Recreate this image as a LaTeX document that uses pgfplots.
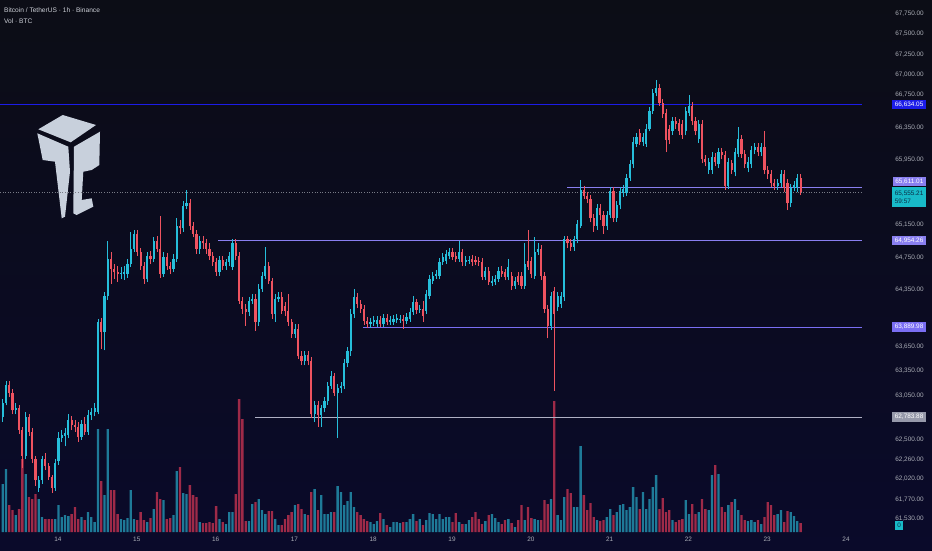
\documentclass[border=0pt]{standalone}
\usepackage{fontspec}
\setmainfont{Liberation Sans}
\usepackage{pgfplots}
\usepackage{pgfplotstable}
\pgfplotsset{compat=1.18}
\definecolor{bgtop}{RGB}{12,13,22}
\definecolor{bgbot}{RGB}{10,10,42}
\definecolor{upc}{RGB}{38,190,218}
\definecolor{dnc}{RGB}{239,83,96}
\definecolor{upv}{RGB}{30,122,152}
\definecolor{dnv}{RGB}{158,42,72}
\definecolor{tickc}{RGB}{170,173,182}
\definecolor{lblue}{RGB}{28,28,232}
\definecolor{lav}{RGB}{137,127,240}
\definecolor{lav2}{RGB}{122,110,243}
\definecolor{lgray}{RGB}{150,153,170}
\definecolor{lgrayline}{RGB}{175,176,196}
\definecolor{pteal}{RGB}{24,186,200}
\definecolor{ptealtxt}{RGB}{10,45,70}
\definecolor{logoc}{RGB}{200,208,220}
\definecolor{titlec}{RGB}{205,208,216}
\definecolor{dotc}{RGB}{120,123,134}

\pgfplotstableread{
i o h l c v
0 62780 63010 62720 62960 48
1 62960 63230 62925 63180 63
4 62865 62960 62815 62900 17
7 62300 62840 62265 62780 58
11 61910 62055 61865 62005 33
12 62005 62300 61960 62265 15
16 61910 62265 61875 62220 13
17 62245 62600 62195 62530 27
18 62530 62625 62480 62565 15
19 62555 62650 62420 62580 17
20 62565 62815 62520 62745 16
24 62540 62745 62505 62695 15
26 62600 62865 62565 62805 20
27 62805 62900 62745 62840 15
28 62840 62960 62790 62900 10
29 62840 63995 62815 63955 103
31 63835 64325 63605 64275 37
32 64275 64955 64225 64730 103
36 64545 64635 64485 64560 13
37 64545 64645 64475 64570 12
38 64545 64730 64500 64670 14
39 64670 65065 64635 64855 42
40 64855 65090 64820 65040 13
44 64485 64820 64450 64770 10
46 64730 65005 64695 64945 23
49 64545 64820 64510 64755 32
52 64610 64795 64570 64730 17
53 64730 65230 64695 65140 61
55 65105 65440 65065 65380 39
56 65380 65580 65340 65415 38
60 64855 65015 64795 64955 10
66 64570 64770 64520 64720 13
68 64645 64730 64595 64695 8
69 64695 64820 64645 64770 20
70 64635 64970 64595 64920 20
75 64080 64265 64030 64215 11
76 64215 64300 64175 64240 28
78 63955 64425 63905 64360 33
79 64360 64570 64325 64520 22
80 64520 64880 64485 64645 18
83 64055 64300 63955 64240 13
84 64240 64325 64200 64265 7
89 63810 63930 63760 63870 27
92 63470 63590 63420 63545 18
95 62815 62985 62720 62935 43
97 62805 62935 62660 62890 37
98 62890 63035 62840 62985 18
99 62985 63215 62935 63165 18
100 63165 63350 63130 63290 20
102 63080 63190 62530 63140 46
103 63140 63215 63080 63165 40
104 63165 63495 63130 63445 27
105 63445 63640 63395 63590 31
106 63590 64115 63540 64055 40
107 64055 64360 64005 64265 25
112 63930 64005 63885 63955 10
113 63955 64030 63905 63980 8
114 63930 64030 63895 63980 11
116 63930 64055 63895 64005 13
118 63955 64030 63920 63980 5
119 63955 64040 63920 63995 10
120 63980 64055 63945 64005 10
121 63980 64040 63945 63995 9
123 63970 64065 63930 64015 10
124 63995 64125 63955 64080 13
125 64080 64275 64040 64200 18
127 64100 64165 64065 64115 13
129 64090 64350 64055 64300 12
130 64275 64535 64240 64485 19
131 64460 64570 64425 64520 18
132 64520 64595 64485 64545 13
133 64520 64745 64485 64695 18
134 64695 64805 64660 64755 13
135 64705 64845 64670 64795 15
136 64770 64870 64730 64820 15
139 64730 64945 64695 64820 10
141 64695 64770 64645 64720 8
142 64705 64770 64670 64720 12
147 64510 64635 64470 64585 11
149 64435 64520 64400 64460 18
150 64450 64535 64410 64485 14
151 64485 64635 64450 64585 10
154 64510 64730 64470 64635 13
156 64400 64510 64360 64460 5
159 64400 64920 64360 64670 12
162 64520 65005 64485 64820 13
163 64820 64920 64780 64855 12
167 63905 64325 63860 64275 33
169 64140 64325 64090 64275 17
170 64175 64325 64125 64275 12
171 64265 65015 64215 64970 35
174 64880 65015 64830 64970 25
175 64970 65215 64920 65165 25
176 65140 65705 65105 65580 86
181 65140 65405 65090 65355 12
184 65130 65315 65090 65265 15
185 65265 65615 65230 65565 23
187 65230 65440 65190 65390 20
188 65390 65615 65340 65565 27
189 65540 65640 65490 65590 28
190 65540 65780 65505 65730 22
191 65730 65945 65690 65895 25
192 65895 66225 65855 66170 45
193 66145 66285 66110 66235 35
195 66170 66285 66120 66235 40
196 66145 66385 66110 66335 23
197 66335 66600 66300 66550 33
198 66550 66820 66515 66770 45
199 66770 66935 66730 66835 57
204 66300 66475 66260 66425 12
208 66300 66600 66250 66550 32
209 66525 66745 66490 66615 18
212 66210 66435 66160 66385 20
215 65830 65970 65780 65920 22
216 65830 66045 65780 65980 57
218 65895 66095 65845 66045 58
221 65630 65970 65590 65920 27
223 65795 66095 65745 66045 33
224 66020 66360 65980 66210 22
227 65855 65980 65795 65920 11
228 65895 66120 65845 66070 12
229 66070 66160 66020 66110 10
231 66045 66160 65995 66110 8
236 65630 65715 65580 65665 18
237 65665 65820 65615 65770 22
240 65415 65655 65365 65605 20
241 65605 65690 65565 65640 16
242 65605 65780 65555 65730 11
}\upC

\pgfplotstableread{
i o h l c v
2 63180 63230 63035 63080 27
3 63080 63130 62815 62865 22
5 62900 62935 62575 62625 23
6 62625 62660 62160 62300 73
8 62780 62815 62555 62600 35
9 62600 62650 62220 62265 33
10 62265 62300 61935 62005 38
13 62265 62340 62135 62185 13
14 62185 62220 62005 62040 13
15 62040 62075 61850 61910 13
21 62745 62800 62625 62685 18
22 62685 62745 62600 62660 25
23 62660 62720 62480 62540 13
25 62695 62780 62565 62600 12
30 63955 64005 63625 63835 51
33 64730 64820 64425 64610 42
34 64610 64670 64485 64570 42
35 64570 64645 64450 64545 18
41 65040 65090 64770 64820 12
42 64820 64870 64595 64645 20
43 64645 64695 64425 64485 12
45 64770 64830 64670 64730 14
47 64945 65015 64820 64855 40
48 64855 65255 64495 64545 33
50 64755 64805 64595 64645 13
51 64645 64695 64545 64610 14
54 65140 65205 65040 65105 65
57 65415 65465 65090 65130 47
58 65130 65180 64995 65040 37
59 65040 65090 64795 64855 35
61 64955 65015 64855 64920 9
62 64920 64970 64795 64855 9
63 64855 64920 64720 64770 10
64 64770 64820 64645 64695 9
65 64695 64745 64520 64570 26
67 64720 64770 64595 64645 10
71 64920 64970 64720 64770 38
72 64770 64820 64175 64215 133
73 64215 64265 64055 64115 113
74 64115 64175 63905 64080 11
77 64240 64300 63845 63955 30
81 64645 64695 64425 64460 21
82 64460 64500 63995 64055 21
85 64265 64325 64055 64090 7
86 64150 64200 64030 64090 13
87 64090 64300 63905 63955 17
88 63955 63995 63760 63810 20
90 63870 63930 63495 63530 28
91 63530 63590 63420 63470 23
93 63545 63600 63420 63470 17
94 63470 63520 62770 62815 40
96 62935 62985 62660 62805 22
101 63290 63325 63045 63080 20
108 64265 64310 64125 64175 20
109 64175 64225 64065 64115 17
110 64115 64165 63920 63970 13
111 63970 64020 63885 63930 11
115 63980 64030 63895 63930 19
117 64005 64055 63920 63955 7
122 63995 64040 63870 63970 10
126 64200 64240 64055 64100 11
128 64115 64215 63955 64030 7
137 64820 64870 64720 64755 10
138 64770 64820 64695 64730 19
140 64820 64855 64645 64695 8
143 64730 64780 64645 64695 15
144 64720 64770 64660 64695 20
145 64705 64755 64645 64695 13
146 64695 64745 64470 64510 8
148 64585 64635 64410 64450 17
152 64585 64645 64510 64545 8
153 64570 64610 64470 64510 12
155 64520 64570 64350 64400 9
157 64520 64570 64410 64450 12
158 64520 64570 64360 64400 27
160 64705 65080 64595 64635 25
161 64705 64755 64500 64545 14
164 64855 64905 64470 64520 12
165 64520 64570 64065 64115 32
166 64115 64165 63750 63905 28
168 64335 64385 63105 64055 131
172 64970 65015 64870 64920 43
173 64920 64970 64830 64880 39
177 65580 65630 65465 65505 37
178 65505 65555 65415 65465 22
179 65465 65515 65180 65230 29
180 65230 65280 65065 65140 15
182 65355 65405 65215 65265 11
183 65265 65315 65040 65140 12
186 65565 65615 65190 65230 17
194 66275 66325 66135 66170 23
200 66835 66885 66615 66655 23
201 66655 66705 66465 66515 34
202 66525 66580 66045 66195 20
203 66325 66375 66145 66195 22
205 66425 66475 66335 66385 10
206 66400 66450 66260 66300 12
207 66385 66435 66210 66260 13
210 66615 66665 66375 66425 28
211 66425 66475 66250 66300 18
213 66385 66435 65905 65955 33
214 65955 66010 65870 65920 23
217 65980 66030 65870 65920 67
219 66045 66095 65955 66005 25
220 66005 66055 65580 65630 20
222 65905 65945 65780 65830 30
225 66210 66260 65970 66020 17
226 66020 66070 65845 65895 12
230 66110 66160 65995 66045 12
232 66110 66300 65770 65820 15
233 65820 65870 65715 65770 30
234 65770 65820 65615 65665 27
235 65665 65715 65580 65630 17
238 65770 65820 65555 65605 10
239 65665 65715 65330 65415 21
243 65730 65780 65515 65555 9
}\dnC

\tikzset{lbl/.style={anchor=east, font=\fontsize{6.4}{7}\selectfont, text=white,
    inner xsep=2.5pt, inner ysep=0pt, minimum height=9.5pt}}

\begin{document}
\begin{tikzpicture}
\shade[top color=bgtop, bottom color=bgbot] (0,0) rectangle (932pt,550pt);
\path[use as bounding box] (0,0) rectangle (932pt,550pt);

\begin{scope}[x=1pt,y=1pt]
\fill[logoc] (38.3,420.7) -- (62.7,435) -- (96,425) -- (70.7,407.7) -- cycle;
\fill[logoc] (37.3,416.7) -- (68.3,403.3) -- (70,378.3) -- (65,333.3) -- (61.7,331.7) -- (55,388.3) -- (42.7,390) -- cycle;
\fill[logoc] (74,403.3) -- (100,418.3) -- (99.3,385) -- (91.7,380) -- (83.3,378.3) -- (81.7,350) -- (91.7,351.7) -- (93.3,343.3) -- (76.7,335) -- (73.3,336.7) -- cycle;
\end{scope}

\node[anchor=west, font=\fontsize{6.6}{7}\selectfont, text=titlec, inner sep=0pt] at (4pt,540pt) {Bitcoin / TetherUS · 1h · Binance};
\node[anchor=west, font=\fontsize{6.6}{7}\selectfont, text=titlec, inner sep=0pt] at (4pt,528.5pt) {Vol · BTC};

\begin{axis}[at={(0pt,18pt)}, anchor=south west, scale only axis,
    width=862pt, height=532pt, xmin=-0.82, xmax=261.7,
    ymin=0, ymax=532, hide axis]
\addplot[ybar, bar width=2.3pt, bar shift=0pt, fill=upv, draw=none] table[x=i, y=v] {\upC};
\addplot[ybar, bar width=2.3pt, bar shift=0pt, fill=dnv, draw=none] table[x=i, y=v] {\dnC};
\end{axis}

\begin{axis}[at={(0pt,18pt)}, anchor=south west, scale only axis,
  width=862pt, height=532pt, xmin=-0.82, xmax=261.7,
  ymin=61367, ymax=67918,
  axis line style={draw=none}, major tick length=0pt,
  scaled y ticks=false,
  ytick={61530,61770,62020,62260,62500,63050,63350,63650,64350,64750,65150,65950,66350,66750,67000,67250,67500,67750},
  yticklabels={{61,530.00},{61,770.00},{62,020.00},{62,260.00},{62,500.00},{63,050.00},{63,350.00},{63,650.00},{64,350.00},{64,750.00},{65,150.00},{65,950.00},{66,350.00},{66,750.00},{67,000.00},{67,250.00},{67,500.00},{67,750.00}},
  yticklabel pos=right,
  xtick={16.84,40.84,64.84,88.84,112.84,136.84,160.84,184.84,208.84,232.84,256.84},
  xticklabels={14,15,16,17,18,19,20,21,22,23,24},
  tick label style={font=\fontsize{6.4}{7}\selectfont, text=tickc},
  yticklabel style={anchor=east, xshift=62pt, inner sep=0pt},
  xticklabel style={anchor=north, inner sep=0pt, yshift=-4.5pt},
]
\addplot[lblue, line width=0.8pt] coordinates {(-0.82,66634.05) (261.7,66634.05)};
\addplot[lav, line width=0.9pt] coordinates {(171.9,65611.01) (261.7,65611.01)};
\addplot[lav, line width=0.9pt] coordinates {(65.6,64954.26) (261.7,64954.26)};
\addplot[lav2, line width=0.9pt] coordinates {(109.7,63889.98) (261.7,63889.98)};
\addplot[lgrayline, line width=0.8pt] coordinates {(76.8,62783.88) (261.7,62783.88)};
\addplot[dotc, line width=0.6pt, dotted] coordinates {(-0.82,65555.21) (261.7,65555.21)};

\addplot[draw=none, mark=none, error bars/.cd, y dir=plus, y explicit, error mark=none,
  error bar style={draw=upc, line width=0.7pt}]
  table[x=i, y=l, y error expr=\thisrow{h}-\thisrow{l}] {\upC};
\addplot[draw=none, mark=none, error bars/.cd, y dir=plus, y explicit, error mark=none,
  error bar style={draw=dnc, line width=0.7pt}]
  table[x=i, y=l, y error expr=\thisrow{h}-\thisrow{l}] {\dnC};
\addplot[draw=none, mark=none, error bars/.cd, y dir=plus, y explicit, error mark=none,
  error bar style={draw=upc, line width=2.2pt}]
  table[x=i, y=o, y error expr=\thisrow{c}-\thisrow{o}] {\upC};
\addplot[draw=none, mark=none, error bars/.cd, y dir=plus, y explicit, error mark=none,
  error bar style={draw=dnc, line width=2.2pt}]
  table[x=i, y=c, y error expr=\thisrow{o}-\thisrow{c}] {\dnC};
\end{axis}

\begin{axis}[at={(0pt,18pt)}, anchor=south west, scale only axis,
  width=862pt, height=532pt, xmin=-0.82, xmax=261.7,
  ymin=61367, ymax=67918, hide axis, clip=false]
\node[lbl, fill=lblue] at (axis cs:281.2,66634.05) {66,634.05};
\node[lbl, fill=lav] at (axis cs:281.2,65680) {65,611.01};
\node[lbl, fill=pteal, text=ptealtxt, align=left, minimum height=19.5pt, font=\fontsize{6.4}{8}\selectfont] at (axis cs:281.2,65491) {65,555.21\\59:57};
\node[lbl, fill=lav] at (axis cs:281.2,64954.26) {64,954.26};
\node[lbl, fill=lav2] at (axis cs:281.2,63889.98) {63,889.98};
\node[lbl, fill=lgray] at (axis cs:281.2,62783.88) {62,783.88};
\node[lbl, fill=pteal, text=ptealtxt, inner xsep=2pt] at (axis cs:274.2,61450) {0};
\end{axis}
\end{tikzpicture}
\end{document}
